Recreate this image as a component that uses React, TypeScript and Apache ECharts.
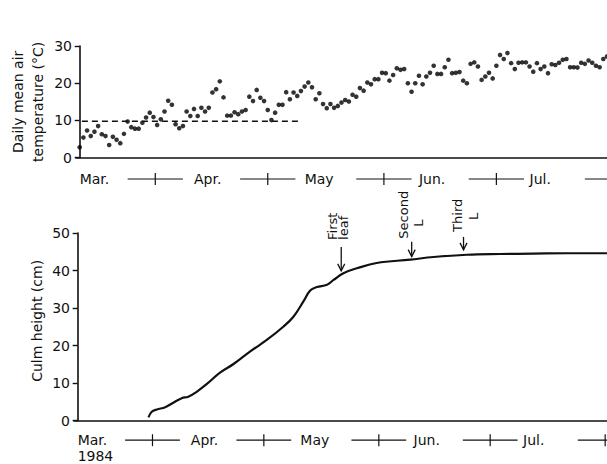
import React, { useEffect, useRef } from 'react';
import * as echarts from 'echarts';

// Daily mean air temperature (°C), one value per day starting 1 March 1984
const temperature = [
  2.8, 5.4, 7.3, 5.8, 7.0, 8.5, 6.3, 5.8, 3.4, 5.6,
  4.8, 3.9, 6.4, 9.7, 8.2, 7.8, 7.8, 9.4, 10.8, 12.1,
  10.9, 8.8, 10.3, 12.4, 15.3, 14.2, 9.0, 7.9, 8.5, 12.4,
  11.2, 13.1, 11.2, 13.4, 12.4, 13.4, 17.5, 18.4, 20.5, 16.2,
  11.3, 11.3, 12.2, 11.7, 12.4, 12.8, 16.4, 15.2, 18.2, 16.1,
  15.2, 12.8, 10.1, 12.1, 14.2, 14.2, 17.6, 15.7, 17.5, 16.6,
  17.9, 19.1, 20.2,
  18.9, 15.7, 17.3, 14.4, 13.3, 14.4, 13.4, 13.9, 14.8, 15.5,
  15.1, 16.9, 16.4, 18.7, 18.0, 20.2, 19.7, 21.1, 21.1, 22.8,
  22.7, 20.7, 22.2, 24.0, 23.6, 23.8, 20.0, 17.7, 20.0, 22.0,
  19.7, 21.8, 22.8, 24.7, 22.5, 22.5, 24.3, 26.3, 22.7, 22.8,
  23.0, 20.7, 20.0, 25.2, 25.6, 24.5, 20.9, 21.8, 22.8, 21.3,
  24.7, 27.6, 26.5, 28.1, 25.4, 23.8, 25.5, 25.6, 25.6, 24.5,
  23.1, 25.4, 23.8, 24.5, 22.7, 25.1, 24.9, 25.5, 26.3, 26.5,
  24.3, 24.3, 24.2, 25.5, 25.2, 26.1, 25.5, 24.7, 24.3, 26.5,
  27.2,
];

const monthNames = ['Mar.', 'Apr.', 'May', 'Jun.', 'Jul.'];
const monthStartDays = [0, 31, 61, 92, 122];
const dividerDays = [20.5, 51, 82.5, 113, 144.5];
const yearLabel = '1984';

const thresholdTemp = 9.8;
const thresholdDays = [0.6, 59.2];

const tempTicks = [0, 10, 20, 30];
const heightTicks = [0, 10, 20, 30, 40, 50];

// Culm height (cm) against day (0 = 1 March)
const growthDays = [19.4, 20.3, 21.7, 24, 26.2, 28.5, 30.3, 32.6, 35.4, 39, 42.7, 47.2, 51.8, 56.4, 59.1, 61.8, 63.7, 65.5, 68.3, 70.1, 72.8, 76.5, 81.9, 91.1, 97.5, 106.6, 115.7, 124.8, 134, 145];
const growthHeights = [0.9, 2.4, 3.0, 3.6, 4.8, 6.0, 6.4, 7.7, 9.8, 12.8, 15.1, 18.4, 21.5, 25.1, 27.7, 31.7, 34.7, 35.6, 36.2, 37.5, 39.3, 40.6, 42.0, 42.9, 43.6, 44.2, 44.4, 44.5, 44.6, 44.6];

// Leaf emergence arrows
const leafDays = [72.2, 91.5, 105.7];
const leafHeights = [39.9, 43.7, 45.5];
const leafLabels = ['First', 'Second', 'Third'];
const leafSubLabels = ['leaf', 'L', 'L'];

const FONT = 'DejaVu Sans';
const INK = '#111';

const arrowLayout = [
  { len: 24, main: [-9, -31], sub: [2, -31] },
  { len: 15, main: [-8.5, -18], sub: [6.5, -30] },
  { len: 13, main: [-6.5, -18], sub: [9.5, -30] },
];

function dividerSeries(xi: number, offset: number) {
  return {
    type: 'custom',
    xAxisIndex: xi,
    yAxisIndex: xi,
    clip: false,
    silent: true,
    data: dividerDays.map((d) => [d, 0]),
    renderItem: (params: any, api: any) => {
      const d = api.value(0);
      const a = api.coord([d - 7.5, 0]);
      const b = api.coord([d + 7.5, 0]);
      const c = api.coord([d, 0]);
      const y = c[1] + offset;
      return {
        type: 'group',
        children: [
          { type: 'line', shape: { x1: a[0], y1: y, x2: b[0], y2: y }, style: { stroke: INK, lineWidth: 1.2 } },
          { type: 'line', shape: { x1: c[0], y1: y - 6, x2: c[0], y2: y + 6 }, style: { stroke: INK, lineWidth: 1.2 } },
        ],
      };
    },
  };
}

export default function App() {
  const ref = useRef<HTMLDivElement>(null);

  useEffect(() => {
    if (!ref.current) return;
    const chart = echarts.init(ref.current, null, { renderer: 'svg' });

    const xAxisBase = (gridIndex: number, min: number, max: number, margin: number, withYear: boolean) => ({
      type: 'value',
      gridIndex,
      min,
      max,
      axisLine: { show: true, onZero: false, lineStyle: { color: INK, width: 1.6 } },
      axisTick: { show: false },
      splitLine: { show: false },
      axisLabel: {
        customValues: monthStartDays,
        align: 'left',
        margin,
        color: INK,
        fontFamily: FONT,
        fontSize: 14,
        lineHeight: 16,
        formatter: (v: number) => {
          const i = monthStartDays.indexOf(v);
          const name = i >= 0 ? monthNames[i] : '';
          return withYear && i === 0 ? name + '\n' + yearLabel : name;
        },
      },
    });

    const yAxisBase = (gridIndex: number, ticks: number[], name: string, nameGap: number, pad: number[]) => ({
      type: 'value',
      gridIndex,
      min: ticks[0],
      max: ticks[ticks.length - 1],
      interval: ticks[1] - ticks[0],
      name,
      nameLocation: 'middle',
      nameGap,
      nameMoveOverlap: false,
      nameTextStyle: { color: INK, fontFamily: FONT, fontSize: 14, lineHeight: 20, padding: pad },
      axisLine: { show: true, lineStyle: { color: INK, width: 1.6 } },
      axisTick: { show: true, inside: false, length: 5, lineStyle: { color: INK, width: 1.4 } },
      splitLine: { show: false },
      axisLabel: { margin: 4, color: INK, fontFamily: FONT, fontSize: 14 },
    });

    chart.setOption({
      animation: false,
      backgroundColor: '#fff',
      grid: [
        { left: 76, right: 0, top: 46, bottom: 306.3, containLabel: false, outerBoundsMode: 'none' },
        { left: 74, right: 0, top: 233, bottom: 43.3, containLabel: false, outerBoundsMode: 'none' },
      ],
      xAxis: [xAxisBase(0, -1, 143, 13, false), xAxisBase(1, -1, 145, 11, true)],
      yAxis: [
        yAxisBase(0, tempTicks, 'Daily mean air\ntemperature (°C)', 28, [0, 0, 0, 0]),
        yAxisBase(1, heightTicks, 'Culm height (cm)', 27, [0, 0, 0, 12]),
      ],
      series: [
        {
          type: 'scatter',
          xAxisIndex: 0,
          yAxisIndex: 0,
          symbolSize: 4.6,
          itemStyle: { color: '#000' },
          data: temperature.map((t, i) => [i, t]),
        },
        {
          type: 'line',
          xAxisIndex: 0,
          yAxisIndex: 0,
          symbol: 'none',
          lineStyle: { color: INK, width: 1.4, type: [6, 4] },
          data: thresholdDays.map((d) => [d, thresholdTemp]),
        },
        dividerSeries(0, 21.3),
        {
          type: 'line',
          xAxisIndex: 1,
          yAxisIndex: 1,
          symbol: 'none',
          smooth: 0.4,
          lineStyle: { color: INK, width: 2.2 },
          data: growthDays.map((d, i) => [d, growthHeights[i]]),
        },
        dividerSeries(1, 19.5),
        {
          type: 'custom',
          xAxisIndex: 1,
          yAxisIndex: 1,
          clip: false,
          silent: true,
          data: leafDays.map((d, i) => [d, leafHeights[i]]),
          renderItem: (params: any, api: any) => {
            const i = params.dataIndex;
            const L = arrowLayout[i];
            const p = api.coord([api.value(0), api.value(1)]);
            const txt = (s: string, off: number[]) => ({
              type: 'text',
              x: p[0] + off[0],
              y: p[1] + off[1],
              rotation: Math.PI / 2,
              style: { text: s, fill: INK, fontFamily: FONT, fontSize: 13, align: 'left', verticalAlign: 'middle' },
            });
            return {
              type: 'group',
              children: [
                { type: 'line', shape: { x1: p[0], y1: p[1] - L.len, x2: p[0], y2: p[1] }, style: { stroke: INK, lineWidth: 1.3 } },
                { type: 'polyline', shape: { points: [[p[0] - 3.5, p[1] - 7], [p[0], p[1]], [p[0] + 3.5, p[1] - 7]] }, style: { stroke: INK, lineWidth: 1.3, fill: 'none' } },
                txt(leafLabels[i], L.main),
                txt(leafSubLabels[i], L.sub),
              ],
            };
          },
        },
      ],
    });

    return () => chart.dispose();
  }, []);

  return <div ref={ref} style={{ position: 'absolute', left: 0, top: 0, width: 607, height: 464 }} />;
}
